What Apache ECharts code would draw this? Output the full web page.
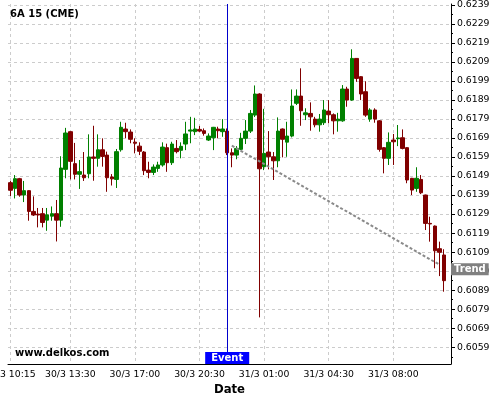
<!DOCTYPE html>
<html>
<head>
<meta charset="utf-8">
<title>6A 15 (CME)</title>
<script src="https://cdn.jsdelivr.net/npm/echarts@6/dist/echarts.min.js"></script>
<style>
  html, body { margin: 0; padding: 0; background: #fff; }
  #chart { width: 500px; height: 400px; }
</style>
</head>
<body>
<div id="chart"></div>
<script>
// 15 minute bars, CME break between 23:00 and 00:00
const day1Times = ['10:15','10:30','10:45','11:00','11:15','11:30','11:45','12:00','12:15','12:30','12:45','13:00','13:15',
  '13:30','13:45','14:00','14:15','14:30','14:45','15:00','15:15','15:30','15:45','16:00','16:15','16:30','16:45',
  '17:00','17:15','17:30','17:45','18:00','18:15','18:30','18:45','19:00','19:15','19:30','19:45','20:00','20:15',
  '20:30','20:45','21:00','21:15','21:30','21:45','22:00','22:15','22:30','22:45']
const day2Times = ['00:00','00:15','00:30','00:45','01:00','01:15','01:30','01:45','02:00','02:15','02:30','02:45','03:00',
  '03:15','03:30','03:45','04:00','04:15','04:30','04:45','05:00','05:15','05:30','05:45','06:00','06:15','06:30',
  '06:45','07:00','07:15','07:30','07:45','08:00','08:15','08:30','08:45','09:00','09:15','09:30','09:45','10:00',
  '10:15','10:30','10:45']
const categories = day1Times.map(t => '30/3 ' + t).concat(day2Times.map(t => '31/3 ' + t))

const opens = [
  0.61455, 0.61425, 0.61476, 0.61390, 0.61413, 0.61304, 0.61290, 0.61292, 0.61258, 0.61279,
  0.61292, 0.61258, 0.61525, 0.61723, 0.61555, 0.61499, 0.61495, 0.61502, 0.61590, 0.61583,
  0.61628, 0.61600, 0.61485, 0.61472, 0.61628, 0.61737, 0.61721, 0.61668, 0.61647, 0.61616,
  0.61521, 0.61509, 0.61530, 0.61548, 0.61639, 0.61560, 0.61635, 0.61625, 0.61658, 0.61726,
  0.61723, 0.61735, 0.61728, 0.61679, 0.61691, 0.61737, 0.61723, 0.61726, 0.61612, 0.61600,
  0.61630, 0.61688, 0.61726, 0.61810, 0.61921, 0.61539, 0.61616, 0.61591, 0.61570, 0.61737,
  0.61668, 0.61700, 0.61872, 0.61910, 0.61812, 0.61819, 0.61789, 0.61759, 0.61770, 0.61831,
  0.61812, 0.61780, 0.61780, 0.61947, 0.61889, 0.62108, 0.62012, 0.61933, 0.61789, 0.61837,
  0.61780, 0.61639, 0.61583, 0.61679, 0.61686, 0.61691, 0.61639, 0.61478, 0.61425, 0.61472,
  0.61390, 0.61241, 0.61227, 0.61108, 0.61075
]
const closes = [
  0.61415, 0.61476, 0.61390, 0.61413, 0.61304, 0.61285, 0.61285, 0.61246, 0.61286, 0.61292,
  0.61258, 0.61532, 0.61716, 0.61567, 0.61499, 0.61513, 0.61481, 0.61590, 0.61583, 0.61628,
  0.61593, 0.61481, 0.61475, 0.61618, 0.61746, 0.61723, 0.61683, 0.61662, 0.61620, 0.61518,
  0.61509, 0.61537, 0.61548, 0.61642, 0.61560, 0.61658, 0.61618, 0.61646, 0.61711, 0.61732,
  0.61737, 0.61726, 0.61714, 0.61700, 0.61746, 0.61728, 0.61737, 0.61612, 0.61600, 0.61635,
  0.61688, 0.61726, 0.61819, 0.61921, 0.61528, 0.61609, 0.61591, 0.61570, 0.61726, 0.61683,
  0.61700, 0.61858, 0.61910, 0.61833, 0.61822, 0.61801, 0.61759, 0.61789, 0.61837, 0.61812,
  0.61780, 0.61789, 0.61947, 0.61889, 0.62108, 0.62003, 0.61921, 0.61810, 0.61837, 0.61789,
  0.61630, 0.61583, 0.61667, 0.61670, 0.61690, 0.61635, 0.61469, 0.61416, 0.61478, 0.61402,
  0.61241, 0.61238, 0.61097, 0.61089, 0.60940
]
const lows = [
  0.61385, 0.61372, 0.61381, 0.61353, 0.61255, 0.61280, 0.61220, 0.61220, 0.61202, 0.61255,
  0.61146, 0.61223, 0.61478, 0.61472, 0.61472, 0.61422, 0.61464, 0.61478, 0.61465, 0.61539,
  0.61539, 0.61407, 0.61440, 0.61427, 0.61618, 0.61688, 0.61662, 0.61609, 0.61600, 0.61495,
  0.61478, 0.61495, 0.61512, 0.61539, 0.61512, 0.61548, 0.61609, 0.61583, 0.61626, 0.61662,
  0.61705, 0.61721, 0.61702, 0.61674, 0.61626, 0.61688, 0.61696, 0.61600, 0.61536, 0.61578,
  0.61626, 0.61658, 0.61716, 0.61800, 0.60747, 0.61521, 0.61525, 0.61469, 0.61536, 0.61588,
  0.61591, 0.61693, 0.61863, 0.61754, 0.61784, 0.61728, 0.61746, 0.61723, 0.61758, 0.61767,
  0.61709, 0.61723, 0.61775, 0.61854, 0.61885, 0.61985, 0.61889, 0.61801, 0.61775, 0.61770,
  0.61618, 0.61504, 0.61548, 0.61548, 0.61647, 0.61630, 0.61452, 0.61390, 0.61407, 0.61395,
  0.61206, 0.61145, 0.61005, 0.60964, 0.60882
]
const highs = [
  0.61464, 0.61495, 0.61480, 0.61464, 0.61415, 0.61383, 0.61322, 0.61322, 0.61322, 0.61330,
  0.61364, 0.61594, 0.61743, 0.61725, 0.61664, 0.61574, 0.61616, 0.61709, 0.61754, 0.61709,
  0.61688, 0.61618, 0.61500, 0.61632, 0.61775, 0.61770, 0.61735, 0.61688, 0.61667, 0.61621,
  0.61565, 0.61551, 0.61565, 0.61667, 0.61660, 0.61670, 0.61679, 0.61667, 0.61775, 0.61801,
  0.61796, 0.61753, 0.61740, 0.61714, 0.61748, 0.61749, 0.61789, 0.61740, 0.61635, 0.61647,
  0.61717, 0.61784, 0.61837, 0.61966, 0.61925, 0.61843, 0.61726, 0.61616, 0.61798, 0.61740,
  0.61775, 0.61945, 0.61945, 0.62056, 0.61846, 0.61877, 0.61801, 0.61816, 0.61889, 0.61889,
  0.61819, 0.61822, 0.61968, 0.61959, 0.62156, 0.62110, 0.62015, 0.61988, 0.61846, 0.61846,
  0.61784, 0.61642, 0.61719, 0.61711, 0.61758, 0.61735, 0.61642, 0.61480, 0.61536, 0.61495,
  0.61392, 0.61276, 0.61230, 0.61145, 0.61105
]

const labelIndex = [0, 13, 27, 41, 55, 69, 83]
const minorIndex = [3, 7, 10, 17, 20, 24, 31, 34, 38, 45, 48, 52, 59, 62, 66, 73, 76, 80, 87, 90, 94]
const priceTicks = [0.6059, 0.6069, 0.6079, 0.6089, 0.6099, 0.6109, 0.6119, 0.6129, 0.6139, 0.6149,
  0.6159, 0.6169, 0.6179, 0.6189, 0.6199, 0.6209, 0.6219, 0.6229, 0.6239]
const priceMinorTicks = [0.6054, 0.6064, 0.6074, 0.6084, 0.6094, 0.6104, 0.6114, 0.6124, 0.6134, 0.6144,
  0.6154, 0.6164, 0.6174, 0.6184, 0.6194, 0.6204, 0.6214, 0.6224, 0.6234]
const yMin = 0.60502
const yMax = 0.62394

const eventIndex = 47
const trendStart = [48, 0.61650]
const trendEnd = [93, 0.61024]
const trendLabelValue = 0.61000

const font = 'DejaVu Sans'
const ohlc = opens.map((o, i) => [o, closes[i], lows[i], highs[i]])

const chart = echarts.init(document.getElementById('chart'))

chart.setOption({
  animation: false,
  backgroundColor: '#fff',
  textStyle: { fontFamily: font },
  title: [{
    text: '6A 15 (CME)',
    left: 10,
    top: 9,
    padding: 0,
    textStyle: { fontFamily: font, fontSize: 10, fontWeight: 'bold', color: '#000' }
  }, {
    text: 'www.delkos.com',
    left: 15,
    top: 348,
    padding: 0,
    textStyle: { fontFamily: font, fontSize: 10, fontWeight: 'bold', color: '#000' }
  }],
  grid: {
    left: 8,
    right: 49,
    top: 4,
    bottom: 36,
    containLabel: false,
    outerBoundsMode: 'none'
  },
  xAxis: [{
    type: 'category',
    data: categories,
    max: 95,
    boundaryGap: true,
    name: 'Date',
    nameLocation: 'middle',
    nameGap: 18,
    nameTextStyle: { fontFamily: font, fontSize: 11.7, fontWeight: 'bold', color: '#000' },
    axisLine: { lineStyle: { color: '#000', width: 1 } },
    axisTick: {
      alignWithLabel: true,
      interval: i => labelIndex.includes(i),
      length: 4,
      lineStyle: { color: '#000' }
    },
    axisLabel: {
      interval: i => labelIndex.includes(i),
      fontFamily: font,
      fontSize: 9.3,
      color: '#000',
      margin: 6
    },
    splitLine: {
      show: true,
      alignWithLabel: true,
      interval: i => labelIndex.includes(i),
      lineStyle: { color: '#cccccc', type: [3, 3] }
    }
  }, {
    // minor ticks only
    type: 'category',
    data: categories,
    max: 95,
    position: 'bottom',
    axisLine: { show: false },
    axisLabel: { show: false },
    splitLine: { show: false },
    axisTick: {
      alignWithLabel: true,
      interval: i => minorIndex.includes(i),
      length: 3,
      lineStyle: { color: '#000' }
    }
  }],
  yAxis: [{
    type: 'value',
    position: 'right',
    min: yMin,
    max: yMax,
    axisLine: { show: true, lineStyle: { color: '#000', width: 1 } },
    axisTick: { show: true, customValues: priceTicks, length: 4, lineStyle: { color: '#000' } },
    axisLabel: {
      customValues: priceTicks,
      formatter: v => v.toFixed(4),
      fontFamily: font,
      fontSize: 9.3,
      color: '#000',
      margin: 6
    },
    splitLine: { show: true, lineStyle: { color: '#cccccc', type: [3, 3] } },
    axisPointer: {
      show: true,
      type: 'line',
      value: trendLabelValue,
      status: 'show',
      snap: false,
      triggerTooltip: false,
      lineStyle: { opacity: 0 },
      label: {
        show: true,
        formatter: 'Trend',
        fontFamily: font,
        fontSize: 10,
        fontWeight: 'bold',
        color: '#fff',
        backgroundColor: '#808080',
        padding: [1, 3],
        margin: 0,
        borderRadius: 0
      }
    }
  }, {
    // minor ticks only
    type: 'value',
    position: 'right',
    min: yMin,
    max: yMax,
    axisLine: { show: false },
    axisLabel: { show: false },
    splitLine: { show: false },
    axisTick: { show: true, customValues: priceMinorTicks, length: 2, lineStyle: { color: '#000' } }
  }],
  series: [{
    type: 'candlestick',
    xAxisIndex: 0,
    yAxisIndex: 0,
    data: ohlc,
    barWidth: 4,
    itemStyle: {
      color: '#008000',
      color0: '#800000',
      borderColor: '#008000',
      borderColor0: '#800000',
      borderWidth: 1
    },
    markLine: {
      silent: true,
      symbol: ['none', 'none'],
      label: { show: false },
      data: [
        { xAxis: eventIndex, lineStyle: { color: '#0000cc', width: 1, type: 'solid' } },
        [
          { coord: trendStart, lineStyle: { color: '#8a8a8a', width: 2, type: [3, 2] } },
          { coord: trendEnd }
        ]
      ]
    },
    markPoint: {
      silent: true,
      symbol: 'rect',
      symbolSize: 0,
      data: [{
        coord: [eventIndex, yMin],
        label: {
          show: true,
          formatter: 'Event',
          position: 'top',
          distance: 0,
          fontFamily: font,
          fontSize: 10,
          fontWeight: 'bold',
          color: '#fff',
          backgroundColor: '#0000ff',
          padding: [1, 6]
        }
      }]
    }
  }]
})
</script>
</body>
</html>
